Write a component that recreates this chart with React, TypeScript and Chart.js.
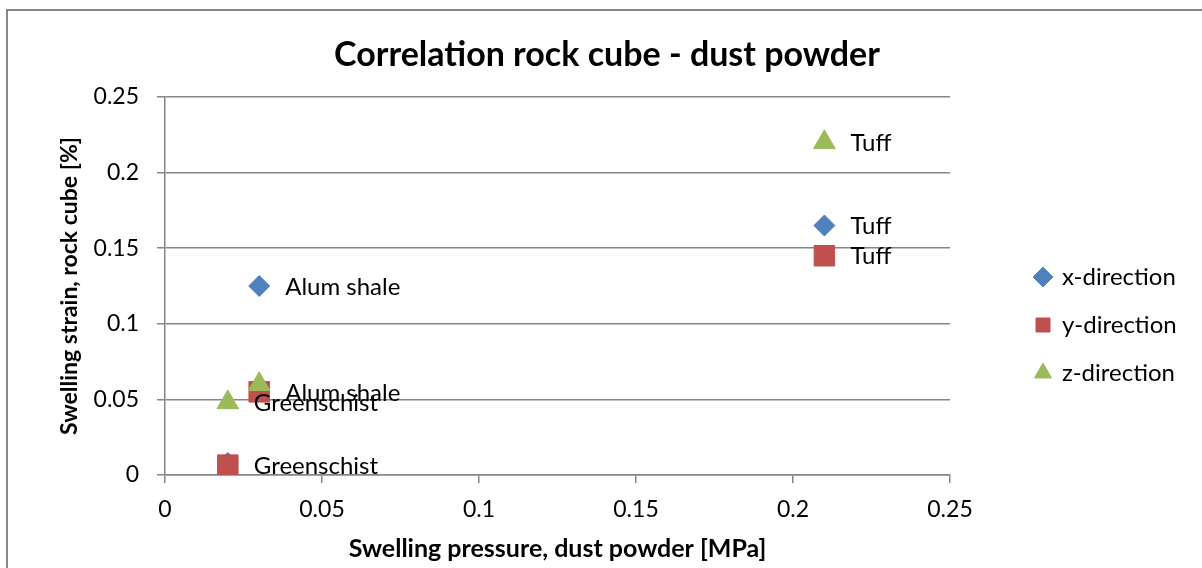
import React, { useEffect, useRef } from "react";
import { Chart, registerables } from "chart.js";

Chart.register(...registerables);

// ---- data ----
const seriesNames = ["x-direction", "y-direction", "z-direction"];
// rock types in point order: Greenschist, Alum shale, Tuff
const pressure = [0.02, 0.03, 0.21];
const strainX = [0.008, 0.125, 0.165];
const strainY = [0.0065, 0.055, 0.145];
const strainZ = [0.048, 0.06, 0.22];
const labelsX = ["", "Alum shale", "Tuff"];
const labelsY = ["Greenschist", "Alum shale", "Tuff"];
const labelsZ = ["Greenschist", "", "Tuff"];
const xTickLabels = ["0", "0.05", "0.1", "0.15", "0.2", "0.25"];
const yTickLabels = ["0", "0.05", "0.1", "0.15", "0.2", "0.25"];

const titleText = "Correlation rock cube - dust powder";
const xTitle = "Swelling pressure, dust powder [MPa]";
const yTitle = "Swelling strain, rock cube [%]";

const FONT = "Lato, 'Open Sans', 'DejaVu Sans', sans-serif";
const GRID = "#868686";
const COLORS = ["#4F81BD", "#C0504D", "#9BBB59"];

const W = 1202;
const H = 568;

const labelSets = [labelsX, labelsY, labelsZ];

const frameAndLabels = {
  id: "frameAndLabels",
  beforeDraw(chart: any) {
    const ctx = chart.ctx;
    ctx.save();
    ctx.fillStyle = "#ffffff";
    ctx.fillRect(0, 0, chart.width, chart.height);
    ctx.strokeStyle = GRID;
    ctx.lineWidth = 2;
    ctx.strokeRect(7, 10, chart.width + 50, chart.height + 50);
    ctx.restore();
  },
  afterLayout(chart: any) {
    const lg = chart.legend;
    if (!lg) return;
    const fs = 24;
    const pad = 48 - fs;
    const box = 14;
    const markerCenterX = 1043;
    const firstTextY = 277;
    lg.left = markerCenterX - box / 2 - pad;
    lg.top = firstTextY - fs / 2 - pad;
    lg.right = W;
    lg.bottom = H;
    lg.width = lg.right - lg.left;
    lg.height = lg.bottom - lg.top;
  },
  afterDatasetsDraw(chart: any) {
    const ctx = chart.ctx;
    ctx.save();
    ctx.font = `24px ${FONT}`;
    ctx.fillStyle = "#000000";
    ctx.textBaseline = "middle";
    ctx.textAlign = "left";
    chart.data.datasets.forEach((_ds: any, i: number) => {
      const meta = chart.getDatasetMeta(i);
      meta.data.forEach((el: any, j: number) => {
        const t = labelSets[i][j];
        if (t) ctx.fillText(t, el.x + 26, el.y + 1);
      });
    });
    ctx.restore();
  },
};

export default function App() {
  const ref = useRef<HTMLCanvasElement | null>(null);

  useEffect(() => {
    if (!ref.current) return;
    const mk = (ys: number[]) => pressure.map((x, i) => ({ x, y: ys[i] }));
    const chart = new Chart(ref.current, {
      type: "scatter",
      data: {
        datasets: [
          {
            label: seriesNames[0],
            data: mk(strainX),
            pointStyle: "rectRot",
            pointRadius: 10.5,
            backgroundColor: COLORS[0],
            borderColor: COLORS[0],
            borderWidth: 1,
            order: 3,
          },
          {
            label: seriesNames[1],
            data: mk(strainY),
            pointStyle: "rect",
            pointRadius: 14.5,
            backgroundColor: COLORS[1],
            borderColor: COLORS[1],
            borderWidth: 1,
            order: 2,
          },
          {
            label: seriesNames[2],
            data: mk(strainZ),
            pointStyle: "triangle",
            pointRadius: 12.5,
            backgroundColor: COLORS[2],
            borderColor: COLORS[2],
            borderWidth: 1,
            order: 1,
          },
        ],
      },
      options: {
        responsive: false,
        animation: false,
        events: [],
        layout: { padding: { left: 12, top: 10, right: 0, bottom: 0 } },
        plugins: {
          tooltip: { enabled: false },
          title: {
            display: true,
            text: titleText,
            color: "#000000",
            font: { family: FONT, size: 34, weight: "bold" },
            padding: { top: 24.6, bottom: 21.6 },
          },
          legend: {
            display: true,
            position: "chartArea",
            align: "start",
            labels: {
              usePointStyle: true,
              boxWidth: 14,
              boxHeight: 14,
              padding: 24,
              color: "#000000",
              font: { family: FONT, size: 24 },
              sort: (a: any, b: any) => a.datasetIndex - b.datasetIndex,
            },
          },
        },
        scales: {
          x: {
            type: "linear",
            min: 0,
            max: 0.25,
            ticks: {
              stepSize: 0.05,
              color: "#000000",
              font: { family: FONT, size: 23 },
              padding: 13,
              callback: (_v: any, i: number) => xTickLabels[i],
            },
            grid: {
              display: true,
              drawOnChartArea: false,
              drawTicks: true,
              tickLength: 8,
              color: GRID,
              lineWidth: 1.5,
            },
            border: { display: true, color: GRID, width: 1.5 },
            title: {
              display: true,
              text: xTitle,
              color: "#000000",
              font: { family: FONT, size: 25, weight: "bold" },
              padding: { top: 0, bottom: 4 },
            },
            afterFit: (s: any) => {
              s.height = 93;
            },
          },
          y: {
            type: "linear",
            position: "left",
            min: 0,
            max: 0.25,
            ticks: {
              stepSize: 0.05,
              color: "#000000",
              font: { family: FONT, size: 23 },
              padding: 18,
              callback: (_v: any, i: number) => yTickLabels[i],
            },
            grid: {
              display: true,
              drawTicks: true,
              tickLength: 8,
              color: GRID,
              lineWidth: 1.5,
            },
            border: { display: true, color: GRID, width: 1.5 },
            title: {
              display: true,
              text: yTitle,
              color: "#000000",
              font: { family: FONT, size: 23, weight: "bold" },
              padding: { top: 44, bottom: 0 },
            },
            afterFit: (s: any) => {
              s.width = 153;
            },
          },
          yRight: {
            type: "linear",
            position: "right",
            display: true,
            grid: { display: false },
            ticks: { display: false },
            border: { display: false },
            afterFit: (s: any) => {
              s.width = 252;
            },
          },
        },
      },
      plugins: [frameAndLabels],
    } as any);
    return () => chart.destroy();
  }, []);

  return (
    <div style={{ position: "fixed", left: 0, top: 0, width: W, height: H, background: "#fff" }}>
      <canvas ref={ref} width={W} height={H} style={{ display: "block" }} />
    </div>
  );
}
